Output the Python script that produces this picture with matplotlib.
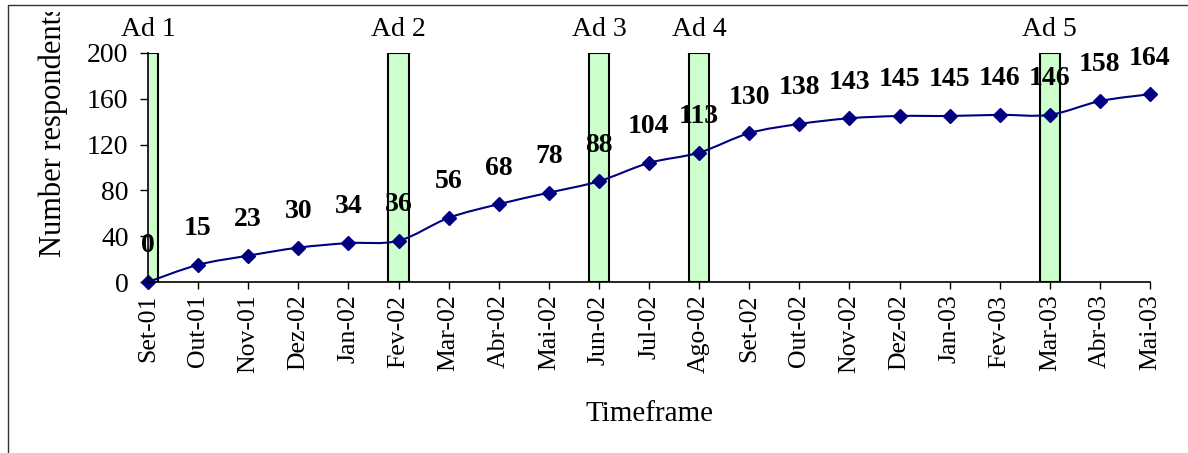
import numpy as np
import matplotlib.pyplot as plt
from matplotlib.path import Path
from matplotlib.patches import PathPatch, Rectangle
from matplotlib.transforms import Bbox

months = ["Set-01", "Out-01", "Nov-01", "Dez-02", "Jan-02", "Fev-02", "Mar-02",
          "Abr-02", "Mai-02", "Jun-02", "Jul-02", "Ago-02", "Set-02", "Out-02",
          "Nov-02", "Dez-02", "Jan-03", "Fev-03", "Mar-03", "Abr-03", "Mai-03"]
respondents = [0, 15, 23, 30, 34, 36, 56, 68, 78, 88, 104, 113, 130, 138,
               143, 145, 145, 146, 146, 158, 164]
ad_months = ["Set-01", "Fev-02", "Jun-02", "Ago-02", "Mar-03"]
ad_labels = ["Ad 1", "Ad 2", "Ad 3", "Ad 4", "Ad 5"]

plt.rcParams['font.family'] = ['Liberation Serif', 'DejaVu Serif']

fig = plt.figure(figsize=(11.88, 4.53), dpi=100)
ax = fig.add_axes([148 / 1188, 1 - 282 / 453, (1150 - 148) / 1188, (282 - 53) / 453])

x = np.arange(len(months))
y = np.array(respondents, dtype=float)

# green ad bars
ad_x = [months.index(m) for m in ad_months]
ax.bar(ad_x, [200] * len(ad_x), width=0.4, color="#ccffcc", edgecolor="black",
       linewidth=1.5, zorder=1)
for xi, lab in zip(ad_x, ad_labels):
    ax.annotate(lab, (xi, 200), xytext=(0, 17), textcoords="offset points",
                ha="center", va="center", fontsize=20, annotation_clip=False)

# smoothed line like Excel (bezier through points)
verts = [(x[0], y[0])]
codes = [Path.MOVETO]
n = len(x)
for i in range(n - 1):
    p0 = np.array([x[max(i - 1, 0)], y[max(i - 1, 0)]])
    p1 = np.array([x[i], y[i]])
    p2 = np.array([x[i + 1], y[i + 1]])
    p3 = np.array([x[min(i + 2, n - 1)], y[min(i + 2, n - 1)]])
    c1 = p1 + (p2 - p0) / 6
    c2 = p2 - (p3 - p1) / 6
    verts += [tuple(c1), tuple(c2), tuple(p2)]
    codes += [Path.CURVE4] * 3
ax.add_patch(PathPatch(Path(verts, codes), facecolor="none", edgecolor="#000080",
                       linewidth=1.5, zorder=2))
ax.plot(x, y, linestyle="none", marker="D", markersize=7.5, color="#000080", zorder=3,
        clip_on=False)

for xi, yi in zip(x, respondents):
    ax.annotate(str(yi), (xi, yi), xytext=(0, 26), textcoords="offset points",
                ha="center", va="center", fontsize=20, fontweight="bold",
                annotation_clip=False, zorder=4)

ax.set_xlim(0, n - 1)
ax.set_ylim(0, 200)
ax.set_yticks(np.arange(0, 201, 40))
ax.set_xticks(x)
ax.set_xticklabels(months, rotation=90, fontsize=18.5)
ax.tick_params(axis="y", labelsize=20, direction="out", length=6, width=1, pad=8)
ax.tick_params(axis="x", direction="out", length=5, width=1, pad=4)
for s in ["top", "right"]:
    ax.spines[s].set_visible(False)
for s in ["left", "bottom"]:
    ax.spines[s].set_linewidth(1.2)
    ax.spines[s].set_zorder(5)

ax.set_xlabel("Timeframe", fontsize=21)
ax.xaxis.set_label_coords(0.5, (282 - 401) / 229)

# y label is cut off at the top like in the original
yl = fig.text(53 / 1188, 1 - 257 / 453, "Number respondents", rotation=90,
              ha="center", va="bottom", fontsize=22)
yl.set_clip_box(Bbox([[0, 0], [1188, 453 - 12]]))
yl.set_clip_on(True)

fig.patches.append(Rectangle((8 / 1188, -0.5), 2, (453 - 5) / 453 + 0.5,
                             transform=fig.transFigure, fill=False,
                             edgecolor="#333333", linewidth=1))

fig.savefig("out.png", dpi=100)
